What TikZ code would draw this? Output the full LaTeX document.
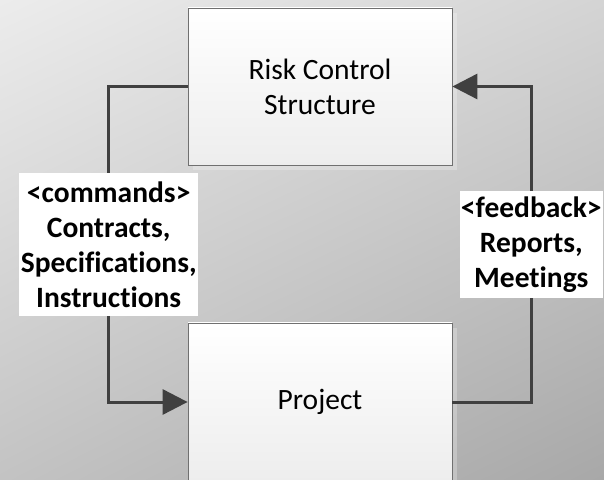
\documentclass[tikz,border=0pt]{standalone}
\usepackage{fontspec}
\setmainfont{Carlito}[Ligatures=NoCommon]
\usetikzlibrary{arrows.meta,shadows,shadings}
\definecolor{linegr}{RGB}{64,64,64}
\definecolor{edgegr}{RGB}{112,112,112}
\definecolor{bgtl}{RGB}{236,236,236}
\definecolor{bgtr}{RGB}{212,212,212}
\definecolor{bgbl}{RGB}{195,195,195}
\definecolor{bgbr}{RGB}{168,168,168}

\tikzset{
  block/.style={draw=edgegr, line width=0.8pt, top color=white, bottom color=gray!14,
    minimum width=264pt, align=center, font=\fontsize{29.5}{35}\selectfont,
    drop shadow={shadow xshift=5pt, shadow yshift=-5pt, fill=white, opacity=0.25}},
  flow/.style={draw=linegr, line width=3pt, -{Triangle[length=25pt,width=25pt]}},
  tag/.style={fill=white, align=center, inner sep=0pt,
    font=\bfseries\fontsize{29.5}{35}\selectfont}
}

\begin{document}
\begin{tikzpicture}[x=1pt,y=1pt]
        \useasboundingbox (0,0) rectangle (604,479);
        \clip (0,0) rectangle (604,479);
        \shade[upper left=bgtl, upper right=bgtr, lower left=bgbl, lower right=bgbr] (0,0) rectangle (604,479);

        % the two boxes
        \node[block, minimum height=157pt] (risk) at (320,392.5) {Risk Control\\Structure};
        \node[block, minimum height=158pt] (proj) at (320,77) {Project};

        % loop around the boxes
        \coordinate (cmdpos) at (108.7,234.5);
        \coordinate (fbpos) at (531.3,234.5);
        \draw[flow] (risk.west) -| (cmdpos) |- (proj.west);
        \draw[flow] (proj.east) -| (fbpos) |- (risk.east);

        \node[tag, minimum width=179pt, minimum height=143pt] (cmd) at (cmdpos) {<commands>\\Contracts,\\Specifications,\\Instructions};
        \node[tag, minimum width=143pt, minimum height=107pt] (fb) at (fbpos) {<feedback>\\Reports,\\Meetings};
    \end{tikzpicture}
\end{document}
